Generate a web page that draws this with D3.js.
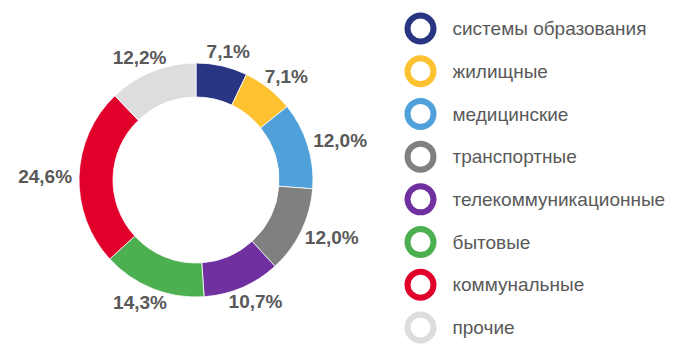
<!DOCTYPE html>
<html>
<head>
<meta charset="utf-8">
<script src="https://cdn.jsdelivr.net/npm/d3@7"></script>
<style>
  body { margin: 0; background: #fff; }
  svg { display: block; font-family: "Liberation Sans", Arial, sans-serif; }
</style>
</head>
<body>
<svg width="700" height="358"></svg>
<script>
var categories = ["системы образования", "жилищные", "медицинские", "транспортные",
                  "телекоммуникационные", "бытовые", "коммунальные", "прочие"];
var shares = [7.1, 7.1, 12.0, 12.0, 10.7, 14.3, 24.6, 12.2];
var labels = ["7,1%", "7,1%", "12,0%", "12,0%", "10,7%", "14,3%", "24,6%", "12,2%"];
var colors = ["#283582", "#fec12f", "#50a0d9", "#808080", "#7030a0", "#4caf50", "#e1002b", "#dddddd"];

var svg = d3.select("svg"),
    cx = 196, cy = 180,
    outerR = 117, innerR = 83;

var data = categories.map(function(c, i) {
  return { name: c, value: shares[i], label: labels[i], color: colors[i] };
});

var pie = d3.pie()
    .sort(null)
    .value(function(d) { return d.value; });

var arc = d3.arc()
    .innerRadius(innerR)
    .outerRadius(outerR);

var g = svg.append("g").attr("transform", "translate(" + cx + "," + cy + ")");
var arcs = pie(data);

// slices
g.selectAll("path")
    .data(arcs)
    .enter().append("path")
    .attr("d", arc)
    .style("fill", function(d) { return d.data.color; })
    .style("stroke", "#fff")
    .style("stroke-width", 0.8);

// outside labels, pushed off the ring by half their box
var labelR = 124, boxH = 16;
var lbl = g.selectAll("text.pct")
    .data(arcs)
    .enter().append("text")
    .attr("class", "pct")
    .style("font-size", "19px")
    .style("font-weight", "bold")
    .style("fill", "#595959")
    .style("text-anchor", "middle")
    .attr("dy", "0.35em")
    .text(function(d) { return d.data.label; });

lbl.each(function(d) {
  var w = this.getComputedTextLength();
  var a = (d.startAngle + d.endAngle) / 2;
  var x = Math.sin(a) * labelR + Math.sin(a) * w / 2;
  var y = -Math.cos(a) * labelR - Math.cos(a) * boxH / 2;
  d3.select(this).attr("x", x).attr("y", y);
});

// legend
var legendY = d3.scalePoint()
    .domain(categories)
    .range([28.5, 327.5]);

var leg = svg.selectAll("g.leg")
    .data(data)
    .enter().append("g")
    .attr("class", "leg")
    .attr("transform", function(d) { return "translate(420.5," + legendY(d.name) + ")"; });

leg.append("circle")
    .attr("r", 13)
    .style("fill", "none")
    .style("stroke", function(d) { return d.color; })
    .style("stroke-width", 6);

leg.append("text")
    .attr("x", 32)
    .attr("dy", "0.35em")
    .style("font-size", "19px")
    .style("fill", "#595959")
    .text(function(d) { return d.name; });
</script>
</body>
</html>
